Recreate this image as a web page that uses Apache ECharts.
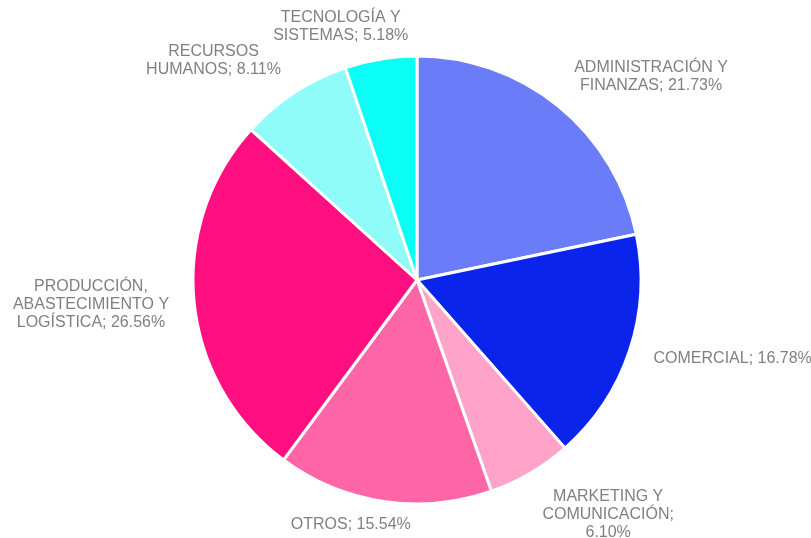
<!DOCTYPE html>
<html>
<head>
<meta charset="utf-8">
<script src="https://cdn.jsdelivr.net/npm/echarts@6/dist/echarts.min.js"></script>
<style>
  html, body { margin: 0; padding: 0; background: #fff; }
  #chart { width: 811px; height: 538px; }
</style>
</head>
<body>
<div id="chart"></div>
<script>
// áreas, en orden horario desde arriba
const areas = [
  'ADMINISTRACIÓN Y\nFINANZAS',
  'COMERCIAL',
  'MARKETING Y\nCOMUNICACIÓN',
  'OTROS',
  'PRODUCCIÓN,\nABASTECIMIENTO Y\nLOGÍSTICA',
  'RECURSOS\nHUMANOS',
  'TECNOLOGÍA Y\nSISTEMAS'
];
const percents = [21.73, 16.78, 6.10, 15.54, 26.56, 8.11, 5.18];
// separador entre nombre y porcentaje
const separators = ['; ', '; ', ';\n', '; ', '; ', '; ', '; '];
const colors = ['#6a7cf8', '#0b24ec', '#ffa3c9', '#ff66a8', '#ff0f80', '#90fcfa', '#0afef6'];

const CX = 417, CY = 280, R = 224, LABEL_DIST = 246;

const chart = echarts.init(document.getElementById('chart'));

const data = areas.map((name, i) => ({
  name: name,
  value: percents[i],
  itemStyle: { color: colors[i] }
}));

// coloca cada etiqueta fuera del sector, sobre su ángulo medio
function placeLabel(p) {
  const total = percents.reduce((a, b) => a + b, 0);
  const before = percents.slice(0, p.dataIndex).reduce((a, b) => a + b, 0);
  const mid = (before + percents[p.dataIndex] / 2) / total * Math.PI * 2;
  const ux = Math.sin(mid), uy = -Math.cos(mid);
  const hw = p.labelRect.width / 2, hh = p.labelRect.height / 2;
  const d = LABEL_DIST - 8 * Math.pow(Math.abs(uy), 6);
  const fx = Math.max(-1, Math.min(1, 3.3 * ux)) * 1.04;
  const fy = Math.sign(uy) * Math.min(1, uy * uy * 1.25);
  return {
    x: CX + ux * d + hw * fx,
    y: CY + uy * d + hh * fy,
    align: 'center',
    verticalAlign: 'middle'
  };
}

chart.setOption({
  animation: false,
  series: [{
    type: 'pie',
    center: [CX, CY],
    radius: R,
    startAngle: 90,
    clockwise: true,
    avoidLabelOverlap: false,
    data: data,
    itemStyle: { borderColor: '#fff', borderWidth: 3 },
    label: {
      show: true,
      position: 'outside',
      color: '#808080',
      fontSize: 16,
      lineHeight: 18,
      fontFamily: '"Liberation Sans", Arial, sans-serif',
      formatter: p => p.name + separators[p.dataIndex] + p.value.toFixed(2) + '%'
    },
    labelLine: { show: false, length: 0, length2: 0 },
    labelLayout: placeLabel
  }]
});
</script>
</body>
</html>
